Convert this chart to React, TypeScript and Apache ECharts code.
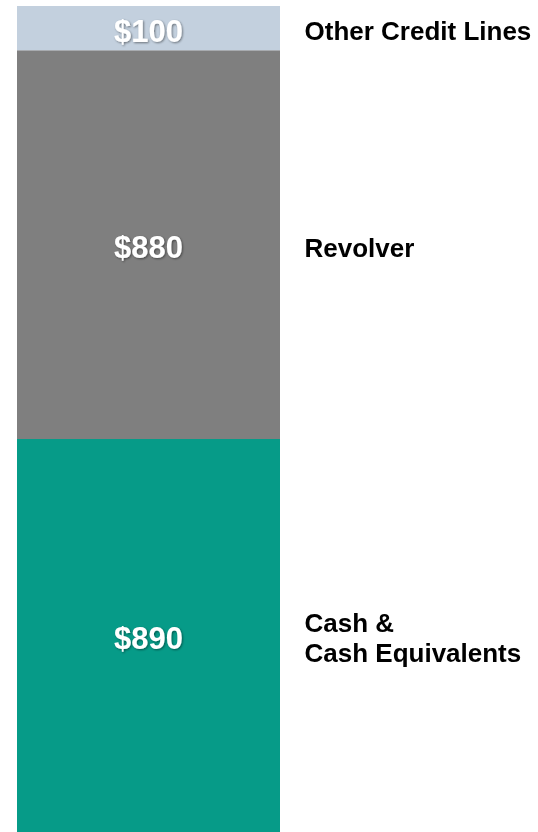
import React, { useEffect, useRef } from "react";
import * as echarts from "echarts";

const segmentNames = ["Cash &\nCash Equivalents", "Revolver", "Other Credit Lines"];
const segmentValues = [890, 880, 100];
const segmentColors = ["#069B88", "#7F7F7F", "#C3D0DE"];
const category = ["Liquidity"];

export default function App() {
  const ref = useRef<HTMLDivElement>(null);
  useEffect(() => {
    if (!ref.current) return;
    const chart = echarts.init(ref.current, null, { renderer: "svg" });
    const total = segmentValues.reduce((a, b) => a + b, 0);
    let base = 0;
    const series = segmentValues.map((v, i) => {
      const mid = base + v / 2;
      base += v;
      return {
        type: "bar",
        name: segmentNames[i],
        stack: "total",
        barWidth: "100%",
        data: [v],
        itemStyle: { color: segmentColors[i] },
        label: {
          show: true,
          position: "inside",
          offset: [0, 3],
          formatter: (p: any) => "$" + p.value,
          color: "#FFFFFF",
          fontFamily: "Liberation Sans",
          fontWeight: "bold",
          fontSize: 31,
          textShadowColor: "rgba(0,0,0,0.45)",
          textShadowBlur: 2,
          textShadowOffsetX: 1,
          textShadowOffsetY: 1,
        },
        markPoint: {
          symbol: "rect",
          symbolSize: 0,
          silent: true,
          data: [{ coord: [0, mid], value: segmentNames[i] }],
          label: {
            show: true,
            position: "right",
            distance: 0,
            offset: [156, 3],
            formatter: () => segmentNames[i],
            color: "#000000",
            fontFamily: "Liberation Sans",
            fontWeight: "bold",
            fontSize: 26,
            lineHeight: 30,
            align: "left",
          },
        },
      };
    });
    chart.setOption({
      animation: false,
      grid: { left: 17, right: 258, top: 6, bottom: 0 },
      xAxis: {
        type: "category",
        data: category,
        show: false,
      },
      yAxis: {
        type: "value",
        min: 0,
        max: total,
        show: false,
      },
      series,
    });
    return () => chart.dispose();
  }, []);
  return (
    <div
      ref={ref}
      style={{ position: "fixed", left: 0, top: 0, width: 538, height: 832 }}
    />
  );
}
